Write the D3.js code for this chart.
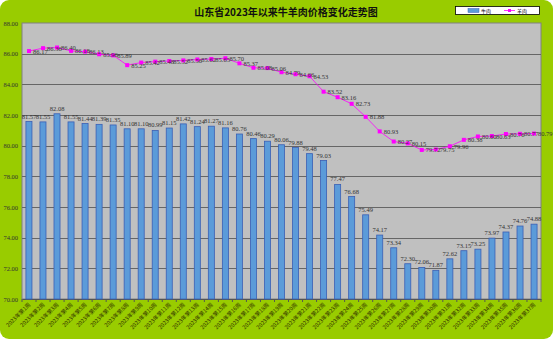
<!DOCTYPE html>
<html><head><meta charset="utf-8">
<script src="https://cdn.jsdelivr.net/npm/d3@7"></script>
<style>body{margin:0;background:#fff;}svg{display:block;}</style>
</head><body>
<script>
const categories = d3.range(1, 38).map(i => "2023年第" + i + "周");
const beef = [81.57, 81.55, 82.08, 81.55, 81.44, 81.39, 81.35, 81.10, 81.10, 80.99, 81.15, 81.42, 81.24, 81.27, 81.16, 80.76, 80.46, 80.29, 80.06, 79.88, 79.48, 79.03, 77.47, 76.68, 75.49, 74.17, 73.34, 72.30, 72.06, 71.87, 72.62, 73.15, 73.25, 73.97, 74.37, 74.76, 74.88];
const mutton = [86.17, 86.36, 86.40, 86.18, 86.13, 85.96, 85.89, 85.25, 85.42, 85.48, 85.52, 85.56, 85.62, 85.65, 85.70, 85.37, 85.08, 85.06, 84.79, 84.66, 84.53, 83.52, 83.16, 82.73, 81.88, 80.93, 80.27, 80.15, 79.72, 79.75, 79.96, 80.38, 80.60, 80.63, 80.76, 80.77, 80.79];
const yTicks = [70, 72, 74, 76, 78, 80, 82, 84, 86, 88];
const title = "山东省2023年以来牛羊肉价格变化走势图";
const seriesNames = ["牛肉", "羊肉"];

const W = 553, H = 339;
const svg = d3.select("body").append("svg").attr("width", W).attr("height", H);
svg.append("rect").attr("x", 0).attr("y", 0).attr("width", W).attr("height", H)
  .attr("rx", 9).attr("fill", "#99CC00");

const L = 22, R = 541, T = 23, B = 299;
const x = d3.scaleBand().domain(categories).range([L, R]).paddingInner(0.57).paddingOuter(0.28);
const xc = d3.scalePoint().domain(categories).range([L, R]).padding(0.5);
const y = d3.scaleLinear().domain([70, 88]).range([B, T]);

svg.append("rect").attr("x", L).attr("y", T).attr("width", R - L).attr("height", B - T)
  .attr("fill", "#C0C0C0").attr("stroke", "#808080").attr("stroke-width", 1);

// grid
svg.append("g").selectAll("line").data(yTicks.filter(d => d > 70 && d < 88)).join("line")
  .attr("x1", L).attr("x2", R).attr("y1", d => Math.round(y(d)) + 0.5).attr("y2", d => Math.round(y(d)) + 0.5)
  .attr("stroke", "#666").attr("stroke-width", 1);

// y axis labels
const yAxis = d3.axisLeft(y).tickValues(yTicks).tickFormat(d3.format(".2f")).tickSize(0).tickPadding(4);
const ya = svg.append("g").attr("transform", `translate(${L},0)`).call(yAxis);
ya.select(".domain").remove();
ya.selectAll("text").attr("font-family", "Liberation Serif, DejaVu Serif, serif").attr("font-size", 6.5).attr("fill", "#333");

// x axis
const xAxis = d3.axisBottom(x).tickSize(0).tickFormat("");
const xa = svg.append("g").attr("transform", `translate(0,${B})`).call(xAxis);
xa.select(".domain").attr("stroke", "#555");
svg.append("g").selectAll("line").data(d3.range(categories.length + 1)).join("line")
  .attr("x1", i => L + i * (R - L) / categories.length).attr("x2", i => L + i * (R - L) / categories.length)
  .attr("y1", B).attr("y2", B + 3).attr("stroke", "#555");
svg.append("g").selectAll("text").data(categories).join("text")
  .attr("transform", d => `translate(${xc(d) + 2},${B + 6}) rotate(-45)`)
  .attr("text-anchor", "end").attr("font-family", "Noto Sans CJK SC, sans-serif").attr("font-size", 5.5)
  .attr("fill", "#333300").text(d => d);

// bars
svg.append("g").selectAll("rect").data(beef).join("rect")
  .attr("x", (d, i) => x(categories[i])).attr("width", x.bandwidth())
  .attr("y", d => y(d)).attr("height", d => B - y(d))
  .attr("fill", "#5B9BD9").attr("stroke", "#3A5FB5").attr("stroke-width", 0.8);
svg.append("g").selectAll("text").data(beef).join("text")
  .attr("x", (d, i) => xc(categories[i])).attr("y", d => y(d) - 3)
  .attr("text-anchor", "middle").attr("font-family", "Liberation Serif, DejaVu Serif, serif").attr("font-size", 6.5)
  .attr("fill", "#333").text(d => d.toFixed(2));

// line
const line = d3.line().x((d, i) => xc(categories[i])).y(d => y(d));
svg.append("path").datum(mutton).attr("d", line).attr("fill", "none").attr("stroke", "#FF00FF").attr("stroke-width", 0.8);
svg.append("g").selectAll("rect").data(mutton).join("rect")
  .attr("x", (d, i) => xc(categories[i]) - 2).attr("y", d => y(d) - 2).attr("width", 4).attr("height", 4)
  .attr("fill", "#FF00FF");
svg.append("g").selectAll("text").data(mutton).join("text")
  .attr("x", (d, i) => xc(categories[i]) + 4).attr("y", d => y(d) + 2.5)
  .attr("font-family", "Liberation Serif, DejaVu Serif, serif").attr("font-size", 6.5)
  .attr("fill", "#333").text(d => d.toFixed(2));

// title
svg.append("text").attr("x", 286).attr("y", 16).attr("text-anchor", "middle")
  .attr("font-family", "Noto Sans CJK SC, sans-serif").attr("font-size", 10).attr("font-weight", "bold")
  .attr("fill", "#111").text(title);

// legend
const lg = svg.append("g");
lg.append("rect").attr("x", 455.5).attr("y", 6.5).attr("width", 84).attr("height", 8).attr("fill", "#fff").attr("stroke", "#000").attr("stroke-width", 0.8);
lg.append("rect").attr("x", 468).attr("y", 8.5).attr("width", 11).attr("height", 4).attr("fill", "#5B9BD9").attr("stroke", "#3A5FB5").attr("stroke-width", 0.5);
lg.append("text").attr("x", 481).attr("y", 12.7).attr("font-family", "Noto Sans CJK SC, sans-serif").attr("font-size", 5).attr("fill", "#000").text(seriesNames[0]);
lg.append("line").attr("x1", 504).attr("x2", 515).attr("y1", 10.5).attr("y2", 10.5).attr("stroke", "#FF00FF").attr("stroke-width", 0.8);
lg.append("rect").attr("x", 508).attr("y", 9).attr("width", 3).attr("height", 3).attr("fill", "#FF00FF");
lg.append("text").attr("x", 517).attr("y", 12.7).attr("font-family", "Noto Sans CJK SC, sans-serif").attr("font-size", 5).attr("fill", "#000").text(seriesNames[1]);
</script>
</body></html>
